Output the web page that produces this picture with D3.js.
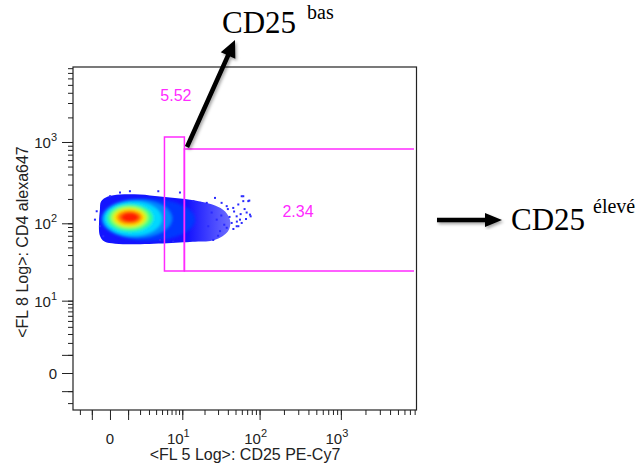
<!DOCTYPE html>
<html>
<head>
<meta charset="utf-8">
<script src="https://cdnjs.cloudflare.com/ajax/libs/d3/7.8.5/d3.min.js"></script>
<style>
body { margin: 0; background: #fff; }
svg { display: block; font-family: "Liberation Sans", Arial, sans-serif; }
.tick-label { font-size: 15px; fill: #222; }
.axis-title { font-size: 16px; fill: #222; }
.axis path.domain { display: none; }
.axis line { stroke: #222; }
.gate { fill: none; stroke: #ff2bff; stroke-width: 1.5; }
.gate-label { fill: #ff2bff; font-size: 16px; }
.note { font-family: "Liberation Serif", "Times New Roman", serif; fill: #000; }
</style>
</head>
<body>
<script>
var width = 640, height = 467;

// axis decades (biexponential display) and their labels
var majorTicks = [0, 10, 100, 1000];
var majorExps = [null, 1, 2, 3];
var xTitle = '<FL 5 Log>: CD25 PE-Cy7';
var yTitle = '<FL 8 Log>: CD4 alexa647';

// main population outline (CD25, CD4)
var blobX = [-0.49, -0.43, -0.09, 0.49, 1.99, 4.63, 9.27, 17.4, 27.4, 37, 43, 40, 27, 15, -0.23, -0.49, -0.54];
var blobY = [148, 186, 214, 227, 227, 214, 202, 186, 166, 140, 105, 79, 62, 59, 59, 70, 105];

// density contour levels, low to high
var levelX0 = [-0.43, -0.38, -0.28, -0.13, 0.04, 0.18, 0.33, 0.54];
var levelX1 = [15, 7.1, 5, 3.54, 2.88, 2.52, 2.19, 1.89];
var levelY0 = [60.6, 66.3, 70, 79, 86, 91, 97.7, 103.4];
var levelY1 = [202, 197, 186, 171, 161, 152, 143.7, 135.7];
var levelColors = ['#0038ff', '#0088ff', '#00d8ff', '#30ff90', '#b0ff30', '#ffe000', '#ff7a00', '#ff1a00'];

// sparse events outside the dense core
var outX = [21.4, 27.4, 33.3, 38.7, 46.8, 54.2, 62.6, 72.3, 51.7, 56.9, 69, 75.9, 44.7, 38.7, 31.8, 51.7, 59.8, 9.27, 14.2, 17.4,
  4.35, 1.13, 0.49, 0, -0.68, -0.79, -0.49, -0.31, 4.63, 7.4, 26, 22.4, 28.8, 24.8, 59.8, 74.4, 62.6, 77.4, 67.7, 54.3,
  48, 42, 36, 30, 47, 65, 58, 40, 33, 52];
var outY = [179, 206, 179, 163, 155, 171, 216, 188, 122, 111, 136, 128, 101, 88, 80, 92, 101, 240, 188, 179,
  249, 249, 240, 216, 141, 111, 92, 69, 62, 59, 62, 92, 111, 136, 216, 191, 188, 122, 113, 92,
  140, 120, 96, 70, 85, 150, 130, 150, 125, 105];

// gates
var gateNames = ['bas', 'eleve'];
var gateX0 = [5.46, 10.7];
var gateX1 = [10.7, 7850];
var gateY0 = [25, 25];
var gateY1 = [1150, 820];
var gatePct = ['5.52', '2.34'];
var gateLabelX = [8.1, 298];
var gateLabelY = [3175, 119.7];

var x = d3.scaleSymlog().constant(1.5).domain([-2.75, 8428]).range([73, 416.5]);
var y = d3.scaleSymlog().constant(1.5).domain([-2.75, 8270]).range([410, 67]);

function minorTicks(domainMax) {
  var t = [-2, -1], d, k;
  for (d = 1; d <= 1000; d *= 10) {
    for (k = 1; k <= 9; k++) {
      if (d * k <= domainMax) t.push(d * k);
    }
  }
  return t;
}

var svg = d3.select('body').append('svg')
  .attr('width', width)
  .attr('height', height);

var defs = svg.append('defs');
defs.append('filter').attr('id', 'soft')
  .attr('x', '-20%').attr('y', '-20%').attr('width', '140%').attr('height', '140%')
  .append('feGaussianBlur').attr('stdDeviation', 1.6);

var shadow = defs.append('filter').attr('id', 'shadow')
  .attr('x', '-20%').attr('y', '-20%').attr('width', '140%').attr('height', '140%');
shadow.append('feDropShadow')
  .attr('dx', 1.5).attr('dy', 2).attr('stdDeviation', 1.5)
  .attr('flood-color', '#000').attr('flood-opacity', 0.35);

// thinner events toward the high CD25 tail
var tail = defs.append('linearGradient').attr('id', 'tail')
  .attr('gradientUnits', 'userSpaceOnUse')
  .attr('x1', x(12)).attr('x2', x(45)).attr('y1', 0).attr('y2', 0);
tail.append('stop').attr('offset', 0).attr('stop-color', '#1414ff');
tail.append('stop').attr('offset', 1).attr('stop-color', '#7070ff');

var blobPts = blobX.map(function(v, i) { return [x(v), y(blobY[i])]; });
var blobLine = d3.line().curve(d3.curveCatmullRomClosed);

defs.append('clipPath').attr('id', 'blobclip')
  .append('path').attr('d', blobLine(blobPts));

// population
var pop = svg.append('g').attr('class', 'population');

pop.append('path')
  .attr('d', blobLine(blobPts))
  .attr('fill', 'url(#tail)');

pop.append('g')
  .attr('clip-path', 'url(#blobclip)')
  .append('g')
  .attr('filter', 'url(#soft)')
  .selectAll('ellipse')
  .data(levelColors)
  .enter()
  .append('ellipse')
  .attr('cx', function(d, i) { return (x(levelX0[i]) + x(levelX1[i])) / 2; })
  .attr('cy', function(d, i) { return (y(levelY0[i]) + y(levelY1[i])) / 2; })
  .attr('rx', function(d, i) { return (x(levelX1[i]) - x(levelX0[i])) / 2; })
  .attr('ry', function(d, i) { return (y(levelY0[i]) - y(levelY1[i])) / 2; })
  .attr('fill', function(d) { return d; });

pop.selectAll('rect.event')
  .data(outX)
  .enter()
  .append('rect')
  .attr('class', 'event')
  .attr('x', function(d) { return x(d) - 1; })
  .attr('y', function(d, i) { return y(outY[i]) - 1; })
  .attr('width', 2)
  .attr('height', 2)
  .attr('fill', '#2a2aff');

// frame
svg.append('rect')
  .attr('x', 73).attr('y', 67)
  .attr('width', 416.5 - 73).attr('height', 410 - 67)
  .attr('fill', 'none')
  .attr('stroke', '#222')
  .attr('stroke-width', 1.2);

// axes
svg.append('g').attr('class', 'axis')
  .attr('transform', 'translate(73,0)')
  .call(d3.axisLeft(y).tickValues(minorTicks(8270)).tickSize(5).tickFormat(''));
svg.append('g').attr('class', 'axis')
  .attr('transform', 'translate(73,0)')
  .call(d3.axisLeft(y).tickValues([-1, 0, 1, 10, 100, 1000]).tickSize(11).tickFormat(''));
svg.append('g').attr('class', 'axis')
  .attr('transform', 'translate(0,410)')
  .call(d3.axisBottom(x).tickValues(minorTicks(8428)).tickSize(5).tickFormat(''));
svg.append('g').attr('class', 'axis')
  .attr('transform', 'translate(0,410)')
  .call(d3.axisBottom(x).tickValues([-1, 0, 1, 10, 100, 1000]).tickSize(10).tickFormat(''));

function powLabel(sel, i) {
  if (majorExps[i] === null) {
    sel.append('tspan').text('0');
    return;
  }
  sel.append('tspan').text('10');
  sel.append('tspan').attr('dy', -7).style('font-size', '11px').text(majorExps[i]);
}

svg.selectAll('text.ylab')
  .data(majorTicks)
  .enter()
  .append('text')
  .attr('class', 'tick-label ylab')
  .attr('x', 57)
  .attr('y', function(d) { return y(d) + 6; })
  .attr('text-anchor', 'end')
  .each(function(d, i) { powLabel(d3.select(this), i); });

svg.selectAll('text.xlab')
  .data(majorTicks)
  .enter()
  .append('text')
  .attr('class', 'tick-label xlab')
  .attr('x', function(d) { return d === 0 ? x(d) : x(d) - 4; })
  .attr('y', 444)
  .attr('text-anchor', 'middle')
  .each(function(d, i) { powLabel(d3.select(this), i); });

svg.append('text')
  .attr('class', 'axis-title')
  .attr('x', 245)
  .attr('y', 460)
  .attr('text-anchor', 'middle')
  .text(xTitle);

svg.append('text')
  .attr('class', 'axis-title')
  .attr('transform', 'translate(28,242) rotate(-90)')
  .attr('text-anchor', 'middle')
  .text(yTitle);

// gates: the high gate is open on its right side, along the frame
svg.selectAll('path.gate')
  .data(gateNames)
  .enter()
  .append('path')
  .attr('class', 'gate')
  .attr('d', function(d, i) {
    var x0 = x(gateX0[i]), x1 = x(gateX1[i]), y0 = y(gateY0[i]), y1 = y(gateY1[i]);
    if (i === 0) {
      return 'M' + x0 + ',' + y0 + 'V' + y1 + 'H' + x1 + 'V' + y0 + 'Z';
    }
    return 'M' + x1 + ',' + y1 + 'H' + x0 + 'V' + y0 + 'H' + x1;
  });

svg.selectAll('text.gate-label')
  .data(gatePct)
  .enter()
  .append('text')
  .attr('class', 'gate-label')
  .attr('x', function(d, i) { return x(gateLabelX[i]); })
  .attr('y', function(d, i) { return y(gateLabelY[i]); })
  .attr('text-anchor', 'middle')
  .text(function(d) { return d; });

// annotation arrows
function arrowPoints(x1, y1, x2, y2, w, hl, hw) {
  var dx = x2 - x1, dy = y2 - y1, len = Math.sqrt(dx * dx + dy * dy);
  var ux = dx / len, uy = dy / len, nx = -uy, ny = ux;
  var bx = x2 - ux * hl, by = y2 - uy * hl;
  return [
    [x1 + nx * w / 2, y1 + ny * w / 2],
    [bx + nx * w / 2, by + ny * w / 2],
    [bx + nx * hw, by + ny * hw],
    [x2, y2],
    [bx - nx * hw, by - ny * hw],
    [bx - nx * w / 2, by - ny * w / 2],
    [x1 - nx * w / 2, y1 - ny * w / 2]
  ];
}

var arrows = [arrowPoints(187, 147, 235, 40, 4.5, 17, 8), arrowPoints(437, 220, 502, 220, 4.5, 17, 7)];

svg.selectAll('polygon.arrow')
  .data(arrows)
  .enter()
  .append('polygon')
  .attr('class', 'arrow')
  .attr('points', function(d) { return d.map(function(p) { return p.join(','); }).join(' '); })
  .attr('fill', '#000')
  .attr('filter', 'url(#shadow)');

var n1 = svg.append('text').attr('class', 'note').attr('x', 222).attr('y', 33);
n1.append('tspan').style('font-size', '31px').text('CD25');
n1.append('tspan').attr('x', 307).attr('y', 19).style('font-size', '20px').text('bas');

var n2 = svg.append('text').attr('class', 'note').attr('x', 511).attr('y', 230);
n2.append('tspan').style('font-size', '31px').text('CD25');
n2.append('tspan').attr('x', 593).attr('y', 213).style('font-size', '20px').text('élevé');
</script>
</body>
</html>
